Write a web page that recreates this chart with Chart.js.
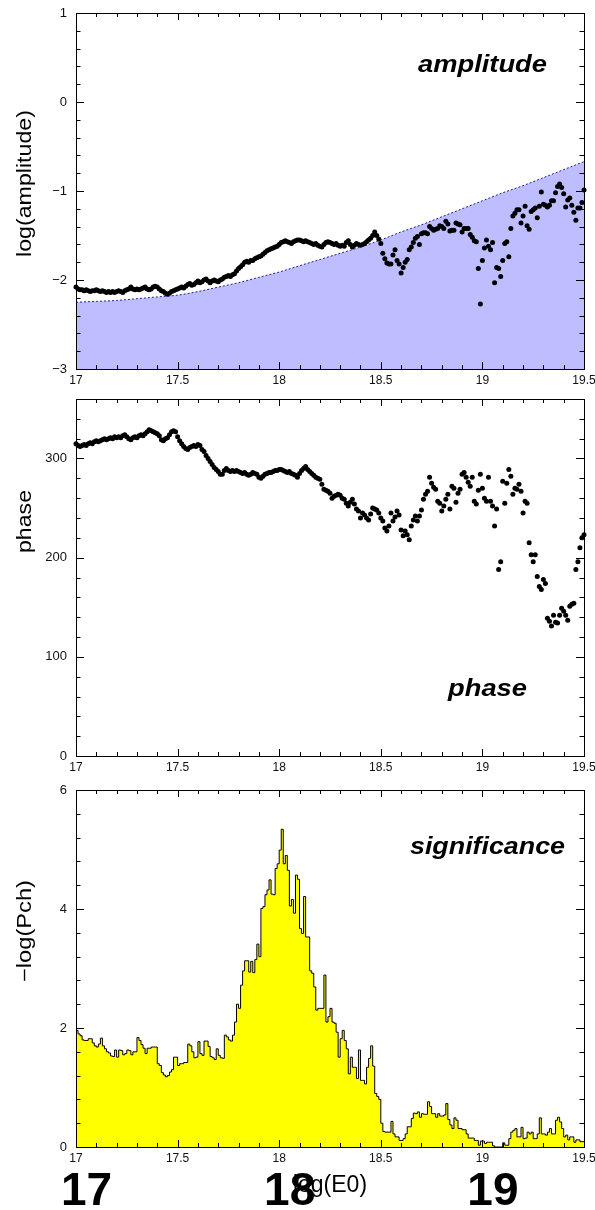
<!DOCTYPE html>
<html>
<head>
<meta charset="utf-8">
<script src="https://cdn.jsdelivr.net/npm/chart.js@4.4.1/dist/chart.umd.min.js"></script>
<style>
  body { margin: 0; background: #fff; width: 595px; height: 1210px; overflow: hidden; position: relative; }
  canvas { position: absolute; left: 0; }
</style>
</head>
<body>
<canvas id="ampChart" width="595" height="387" style="top:0px"></canvas>
<canvas id="phaseChart" width="595" height="393" style="top:387px"></canvas>
<canvas id="sigChart" width="595" height="430" style="top:780px"></canvas>
<script>
const FONT = '"Liberation Sans", Arial, Helvetica, sans-serif';

// energy grid log(E0), 17.00 .. 19.50 in steps of 0.01
const E0 = [];
for (let i = 0; i <= 250; i++) E0.push(+(17 + i * 0.01).toFixed(2));

const xTickValues = [17, 17.5, 18, 18.5, 19, 19.5];
const ampTicks = [-3, -2, -1, 0, 1];
const phaseTicks = [0, 100, 200, 300];
const sigTicks = [0, 2, 4, 6];
const bigLabels = [17, 18, 19];

// log(amplitude) per E0
const amplitude = [
  -2.08, -2.10, -2.11, -2.11, -2.12, -2.11, -2.12, -2.13, -2.12, -2.12,
  -2.11, -2.12, -2.13, -2.12, -2.13, -2.14, -2.13, -2.14, -2.13, -2.14,
  -2.13, -2.12, -2.13, -2.14, -2.12, -2.11, -2.10, -2.08, -2.10, -2.11,
  -2.10, -2.11, -2.10, -2.09, -2.08, -2.10, -2.11, -2.10, -2.08, -2.07,
  -2.08, -2.10, -2.12, -2.13, -2.15, -2.16, -2.15, -2.13, -2.12, -2.11,
  -2.10, -2.09, -2.08, -2.09, -2.07, -2.05, -2.04, -2.06, -2.05, -2.03,
  -2.01, -2.03, -2.02, -2.00, -1.99, -2.01, -2.03, -2.01, -2.00, -2.01,
  -2.02, -2.00, -1.99, -1.97, -1.96, -1.95, -1.96, -1.94, -1.93, -1.90,
  -1.87, -1.85, -1.83, -1.80, -1.79, -1.80, -1.78, -1.78, -1.76, -1.75,
  -1.74, -1.73, -1.71, -1.69, -1.67, -1.66, -1.65, -1.64, -1.63, -1.62,
  -1.60, -1.58, -1.57, -1.56, -1.57, -1.58, -1.59, -1.57, -1.56, -1.55,
  -1.55, -1.56, -1.57, -1.56, -1.57, -1.58, -1.59, -1.60, -1.59, -1.61,
  -1.62, -1.63, -1.60, -1.58, -1.57, -1.58, -1.59, -1.60, -1.59, -1.61,
  -1.62, -1.61, -1.62, -1.58, -1.56, -1.60, -1.63, -1.61, -1.59, -1.60,
  -1.61, -1.60, -1.59, -1.57, -1.55, -1.53, -1.50, -1.46, -1.50, -1.54,
  -1.59, -1.70, -1.76, -1.81, -1.82, -1.82, -1.72, -1.66, -1.78, -1.82,
  -1.92, -1.86, -1.80, -1.77, -1.66, -1.63, -1.58, -1.53, -1.51, -1.60,
  -1.48, -1.47, -1.47, -1.48, -1.40, -1.42, -1.44, -1.43, -1.42, -1.39,
  -1.40, -1.42, -1.34, -1.37, -1.45, -1.44, -1.44, -1.36, -1.37, -1.38,
  -1.46, -1.42, -1.42, -1.42, -1.49, -1.52, -1.56, -1.57, -1.87, -2.27,
  -1.78, -1.64, -1.55, -1.62, -1.66, -1.58, -2.03, -1.86, -1.87, -1.96,
  -1.78, -1.59, -1.57, -1.74, -1.42, -1.28, -1.25, -1.21, -1.21, -1.36,
  -1.28, -1.17, -1.39, -1.43, -1.23, -1.21, -1.19, -1.30, -1.17, -1.01,
  -1.15, -1.16, -1.18, -1.16, -1.11, -1.11, -1.02, -0.95, -0.92, -0.96,
  -1.03, -1.18, -1.10, -1.08, -1.16, -1.24, -1.33, -1.19, -1.19, -1.13,
  -0.99
];

// upper limit curve (blue band)
const limitE = [17.0, 17.1, 17.2, 17.3, 17.4, 17.5, 17.6, 17.7, 17.8, 17.9, 18.0, 18.1, 18.2,
                18.3, 18.4, 18.5, 18.6, 18.7, 18.8, 18.9, 19.0, 19.1, 19.2, 19.3, 19.4, 19.5];
const limitAmp = [-2.25, -2.24, -2.23, -2.21, -2.19, -2.17, -2.13, -2.08, -2.03, -1.97, -1.91, -1.84, -1.77,
                  -1.70, -1.63, -1.55, -1.46, -1.38, -1.29, -1.20, -1.11, -1.02, -0.94, -0.85, -0.76, -0.67];

// phase (deg) per E0
const phase = [
  315, 313, 312, 313, 314, 313, 315, 316, 315, 317,
  318, 317, 318, 319, 320, 319, 320, 321, 320, 322,
  321, 322, 321, 323, 324, 322, 320, 319, 321, 322,
  321, 323, 324, 323, 325, 327, 329, 328, 327, 326,
  325, 323, 319, 318, 320, 321, 324, 327, 328, 327,
  322, 318, 315, 312, 310, 309, 311, 312, 313, 312,
  314, 313, 309, 307, 303, 300, 297, 294, 291, 289,
  287, 284, 284, 288, 290, 288, 287, 288, 287, 288,
  287, 286, 285, 286, 284, 283, 284, 286, 285, 284,
  281, 280, 282, 284, 285, 286, 286, 287, 288, 288,
  289, 289, 288, 287, 286, 287, 285, 284, 283, 281,
  285, 288, 290, 292, 289, 287, 285, 283, 281, 280,
  279, 274, 269, 268, 267, 265, 260, 262, 263, 264,
  263, 260, 259, 255, 252, 256, 259, 254, 249, 247,
  240, 245, 243, 240, 238, 244, 250, 249, 248, 245,
  240, 237, 230, 227, 232, 245, 237, 241, 247, 243,
  228, 222, 227, 223, 218, 232, 238, 242, 237, 242,
  248, 259, 264, 267, 281, 275, 271, 269, 257, 255,
  247, 252, 259, 264, 249, 272, 270, 256, 265, 269,
  284, 286, 281, 276, 272, 281, 257, 254, 268, 284,
  270, 260, 257, 281, 257, 252, 232, 249, 188, 196,
  277, 255, 275, 289, 282, 264, 270, 269, 274, 267,
  245, 257, 255, 215, 203, 196, 203, 181, 171, 168,
  178, 174, 139, 136, 131, 142, 135, 134, 142, 149,
  146, 142, 137, 151, 153, 154, 188, 196, 210, 220,
  223
];

// -log(Pch), one bin of 0.01 starting at each E0 (17.00 .. 19.49)
const significance = [
  2.05, 1.96, 1.90, 1.87, 1.80, 1.79, 1.79, 1.82, 1.82, 1.75,
  1.70, 1.68, 1.73, 1.83, 1.70, 1.65, 1.60, 1.58, 1.53, 1.52,
  1.63, 1.51, 1.63, 1.62, 1.55, 1.57, 1.63, 1.62, 1.55, 1.60,
  1.60, 1.84, 1.79, 1.72, 1.66, 1.57, 1.66, 1.66, 1.68, 1.68,
  1.68, 1.40, 1.37, 1.25, 1.21, 1.18, 1.20, 1.26, 1.30, 1.51,
  1.51, 1.37, 1.40, 1.40, 1.42, 1.42, 1.73, 1.70, 1.60, 1.50,
  1.51, 1.77, 1.57, 1.54, 1.78, 1.78, 1.69, 1.52, 1.50, 1.47,
  1.65, 1.54, 1.50, 1.49, 1.88, 1.85, 1.80, 1.78, 1.88, 2.10,
  2.40, 2.33, 2.72, 2.96, 3.13, 3.13, 2.94, 3.12, 2.93, 3.15,
  3.41, 3.20, 4.01, 4.04, 4.24, 4.32, 4.49, 4.25, 4.24, 4.68,
  4.76, 4.99, 5.34, 4.76, 4.90, 4.65, 4.05, 4.16, 3.93, 4.57,
  4.50, 3.67, 3.59, 4.21, 3.53, 3.53, 2.96, 2.92, 2.69, 2.30,
  2.33, 2.33, 2.33, 2.89, 2.10, 2.19, 2.33, 2.10, 2.08, 1.93,
  1.51, 1.82, 1.96, 1.79, 1.65, 1.23, 1.51, 1.34, 1.34, 1.15,
  1.63, 1.12, 1.12, 1.06, 1.34, 1.49, 1.70, 1.36, 0.90, 0.85,
  0.80, 0.40, 0.26, 0.25, 0.25, 0.25, 0.43, 0.22, 0.17, 0.17,
  0.11, 0.11, 0.14, 0.22, 0.34, 0.34, 0.48, 0.57, 0.56, 0.59,
  0.50, 0.56, 0.55, 0.55, 0.76, 0.68, 0.56, 0.56, 0.50, 0.56,
  0.52, 0.52, 0.54, 0.73, 0.46, 0.37, 0.31, 0.49, 0.45, 0.31,
  0.31, 0.29, 0.29, 0.22, 0.15, 0.15, 0.15, 0.11, 0.11, 0.03,
  0.10, 0.10, 0.06, 0.08, 0.08, 0.08, 0.02, 0.00, 0.00, 0.00,
  0.00, 0.07, 0.03, 0.03, 0.14, 0.25, 0.28, 0.31, 0.17, 0.17,
  0.33, 0.14, 0.15, 0.25, 0.22, 0.25, 0.14, 0.14, 0.22, 0.49,
  0.22, 0.22, 0.20, 0.25, 0.31, 0.22, 0.22, 0.45, 0.50, 0.42,
  0.31, 0.17, 0.20, 0.12, 0.17, 0.17, 0.08, 0.12, 0.12, 0.09
];

// text stretched to a given width (ROOT fonts run wider than ours)
function fitText(ctx, text, w) {
  const sx = w ? w / ctx.measureText(text).width : 1;
  ctx.scale(sx, 1);
  ctx.fillText(text, 0, 0);
}

// frame, inward ticks on all four sides, axis title and panel label
const framePlugin = {
  id: 'frame',
  afterDraw(chart, args, o) {
    const ctx = chart.ctx;
    const a = chart.chartArea;
    const xs = chart.scales.x, ys = chart.scales.y;
    ctx.save();
    ctx.strokeStyle = '#000';
    ctx.lineWidth = 1;
    ctx.beginPath();
    const nx = Math.round((xs.max - xs.min) / o.xMinor);
    const kx = Math.round(o.xMajor / o.xMinor);
    for (let i = 0; i <= nx; i++) {
      const px = Math.round(xs.getPixelForValue(xs.min + i * o.xMinor)) + 0.5;
      const len = i % kx === 0 ? 7 : 4;
      ctx.moveTo(px, a.bottom); ctx.lineTo(px, a.bottom - len);
      ctx.moveTo(px, a.top); ctx.lineTo(px, a.top + len);
    }
    const ny = Math.round((ys.max - ys.min) / o.yMinor);
    for (let i = 0; i <= ny; i++) {
      const v = ys.min + i * o.yMinor;
      const py = Math.round(ys.getPixelForValue(v)) + 0.5;
      const major = Math.abs(v / o.yMajor - Math.round(v / o.yMajor)) < 1e-6;
      const len = major ? 8 : 4.5;
      ctx.moveTo(a.left, py); ctx.lineTo(a.left + len, py);
      ctx.moveTo(a.right, py); ctx.lineTo(a.right - len, py);
    }
    ctx.stroke();
    ctx.strokeRect(Math.round(a.left) + 0.5, Math.round(a.top) + 0.5,
                   Math.round(a.right - a.left), Math.round(a.bottom - a.top));

    ctx.fillStyle = '#000';
    // y title, rotated, its end near the top of the axis
    ctx.save();
    ctx.font = '19.5px ' + FONT;
    ctx.translate(26, a.top + o.titleEnd);
    ctx.rotate(-Math.PI / 2);
    ctx.textAlign = 'right';
    ctx.textBaseline = 'middle';
    fitText(ctx, o.title, o.titleW);
    ctx.restore();

    // panel label
    ctx.save();
    ctx.font = 'italic bold 24px ' + FONT;
    ctx.textAlign = 'left';
    ctx.textBaseline = 'alphabetic';
    ctx.translate(o.labelX, o.labelY);
    fitText(ctx, o.label, o.labelW);
    ctx.restore();

    if (o.xTitle) {
      ctx.font = '23px ' + FONT;
      ctx.textAlign = 'center';
      ctx.textBaseline = 'alphabetic';
      ctx.fillText(o.xTitle, (a.left + a.right) / 2, o.xTitleY);
      ctx.font = 'bold 46px ' + FONT;
      bigLabels.forEach(v => {
        ctx.fillText(String(v), xs.getPixelForValue(v) + 10.5, o.bigY);
      });
    }
    ctx.restore();
  }
};

function xAxis(h) {
  return {
    type: 'linear', min: 17, max: 19.5,
    grid: { display: false, drawTicks: false },
    border: { display: false },
    ticks: {
      font: { family: FONT, size: 12 }, color: '#111', padding: 4, maxRotation: 0,
      callback: v => String(v)
    },
    afterBuildTicks: s => { s.ticks = xTickValues.map(v => ({ value: v })); },
    afterFit: s => { s.height = h; s.paddingLeft = 0; s.paddingRight = 0; }
  };
}

function yAxis(min, max, tickValues) {
  return {
    type: 'linear', min: min, max: max,
    grid: { display: false, drawTicks: false },
    border: { display: false },
    ticks: {
      font: { family: FONT, size: 13 }, color: '#111', padding: 9,
      callback: v => v < 0 ? '\u2212' + Math.abs(v) : String(v)
    },
    afterBuildTicks: s => { s.ticks = tickValues.map(v => ({ value: v })); },
    afterFit: s => { s.width = 76; s.paddingTop = 0; s.paddingBottom = 0; }
  };
}

function baseOptions(top, x, y, frame) {
  return {
    responsive: false,
    animation: false,
    events: [],
    layout: { padding: { top: top, right: 11, left: 0, bottom: 0 } },
    scales: { x: x, y: y },
    plugins: { legend: { display: false }, tooltip: { enabled: false }, frame: frame }
  };
}

const dot = { showLine: false, pointRadius: 2.5, pointBackgroundColor: '#000', pointBorderWidth: 0, clip: false };

// amplitude
new Chart(document.getElementById('ampChart'), {
  type: 'line',
  data: {
    datasets: [
      Object.assign({ data: E0.map((e, i) => ({ x: e, y: amplitude[i] })), order: 0 }, dot),
      {
        data: limitE.map((e, i) => ({ x: e, y: limitAmp[i] })),
        borderColor: '#1c1ca0', borderWidth: 1, borderDash: [2, 2],
        backgroundColor: '#bdbdff', fill: 'start', pointRadius: 0,
        cubicInterpolationMode: 'monotone', order: 1
      }
    ]
  },
  options: baseOptions(13, xAxis(18), yAxis(-3, 1, ampTicks), {
    xMinor: 0.1, xMajor: 0.5, yMinor: 0.2, yMajor: 1,
    title: 'log(amplitude)', titleEnd: 97, titleW: 147,
    label: 'amplitude', labelX: 418, labelY: 72, labelW: 129
  }),
  plugins: [framePlugin]
});

// phase
new Chart(document.getElementById('phaseChart'), {
  type: 'line',
  data: {
    datasets: [
      Object.assign({ data: E0.map((e, i) => ({ x: e, y: phase[i] })) }, dot)
    ]
  },
  options: baseOptions(12, xAxis(24), yAxis(0, 360, phaseTicks), {
    xMinor: 0.1, xMajor: 0.5, yMinor: 20, yMajor: 100,
    title: 'phase', titleEnd: 91, titleW: 63,
    label: 'phase', labelX: 448, labelY: 309, labelW: 79
  }),
  plugins: [framePlugin]
});

// significance histogram, drawn as a stepped line
const sigPoints = E0.slice(0, 250).map((e, i) => ({ x: e, y: significance[i] }));
sigPoints.push({ x: 19.5, y: significance[249] });

new Chart(document.getElementById('sigChart'), {
  type: 'line',
  data: {
    datasets: [{
      data: sigPoints, stepped: 'after',
      borderColor: '#000', borderWidth: 1,
      backgroundColor: '#ffff00', fill: 'origin', pointRadius: 0
    }]
  },
  options: baseOptions(10, xAxis(63), yAxis(0, 6, sigTicks), {
    xMinor: 0.1, xMajor: 0.5, yMinor: 0.4, yMajor: 2,
    title: '\u2212log(Pch)', titleEnd: 90, titleW: 102,
    label: 'significance', labelX: 410, labelY: 74, labelW: 155,
    xTitle: 'log(E0)', xTitleY: 412, bigY: 425
  }),
  plugins: [framePlugin]
});
</script>
</body>
</html>
